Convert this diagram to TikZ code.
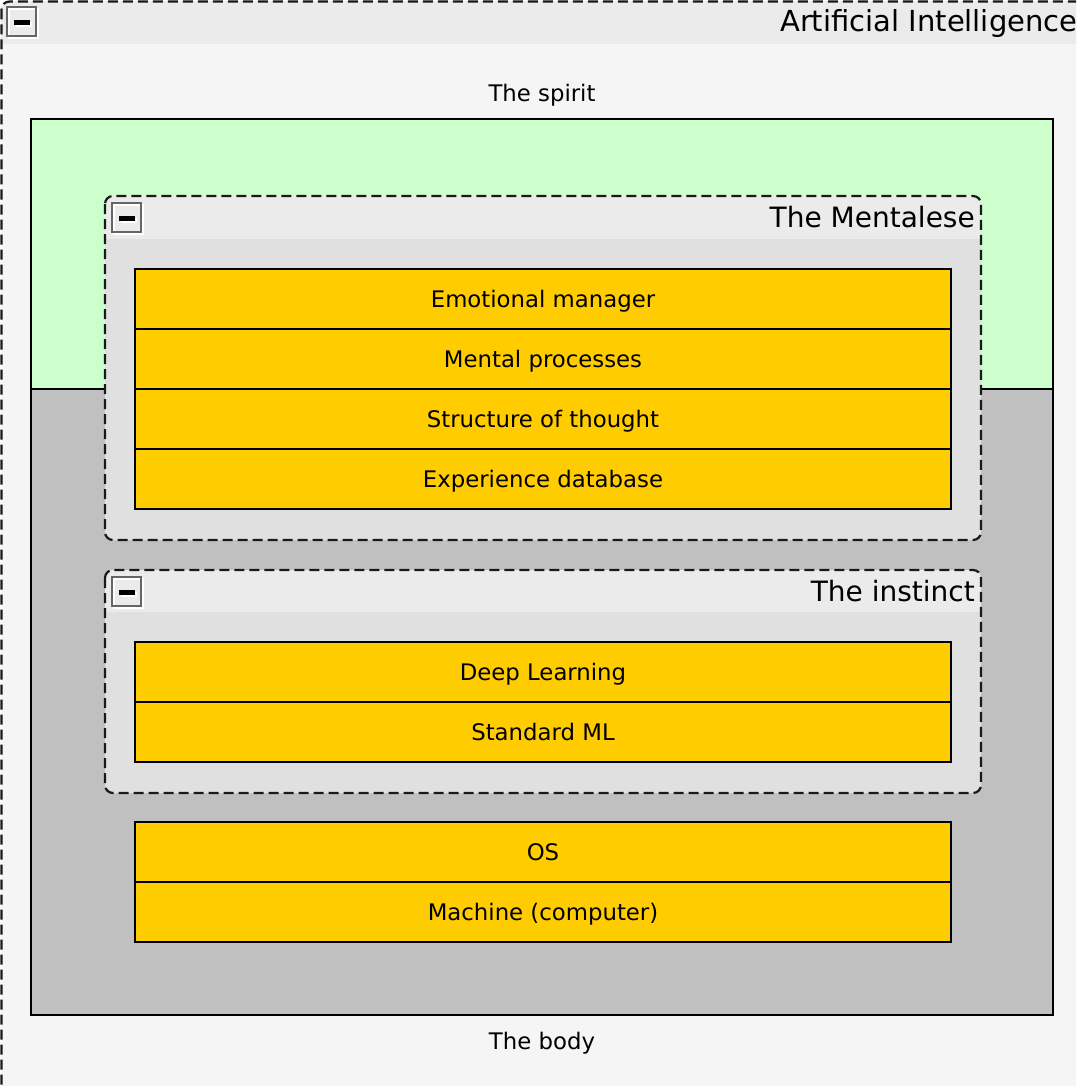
\documentclass[tikz,border=0pt]{standalone}
\usepackage{fontspec}
\setmainfont{DejaVu Sans}
\definecolor{outerbg}{HTML}{F5F5F5}
\definecolor{headbg}{HTML}{EBEBEB}
\definecolor{groupbg}{HTML}{E0E0E0}
\definecolor{spiritc}{HTML}{CCFFCC}
\definecolor{bodyc}{HTML}{C0C0C0}
\definecolor{layerc}{HTML}{FFCC00}
\definecolor{icongray}{HTML}{666666}
\newcommand\colicon[2]{%
  \draw[white,line width=2pt] (#1+2,#2+2) rectangle (#1+31,#2+31);
  \draw[icongray,line width=2pt] (#1,#2) rectangle (#1+29,#2+29);
  \fill[white] (#1+9,#2+15) rectangle (#1+25,#2+20);
  \fill[black] (#1+7,#2+13) rectangle (#1+23,#2+18);
}
\begin{document}
\begin{tikzpicture}[x=1pt,y=-1pt,
  every node/.style={font=\fontsize{22.8}{27}\selectfont, inner sep=0pt},
  titlefont/.style={font=\fontsize{28}{33}\selectfont},
  groupframe/.style={draw=black!90, line width=2.2pt, dash pattern=on 10pt off 5pt, rounded corners=8pt},
  layer/.style={draw=black, line width=1.6pt, fill=layerc, minimum width=816pt, minimum height=60pt, text height=16.6pt, text depth=0pt},
  zone/.style={draw=black, line width=1.6pt}]
\useasboundingbox (0,0) rectangle (1076,1086);
\clip (0,0) rectangle (1076,1086);
% outer container
\fill[outerbg, rounded corners=8pt] (1,1) rectangle (1084,1094);
\begin{scope}
  \clip[rounded corners=8pt] (1,1) rectangle (1084,1094);
  \fill[headbg] (1,1) rectangle (1084,44);
\end{scope}
\draw[groupframe] (1.5,1.5) rectangle (1084,1094);
\colicon{7}{7}
\node[font=\fontsize{29}{34}\selectfont, anchor=base west] (aititle) at (780,32) {Artificial Intelligence};
% spirit and body zones
\node[anchor=base] (spiritlbl) at (542,101.5) {The spirit};
\filldraw[zone, fill=spiritc] (31,119) rectangle (1053,389);
\filldraw[zone, fill=bodyc] (31,389) rectangle (1053,1015);
\node[anchor=base] (bodylbl) at (542,1049.5) {The body};
% Mentalese group
\fill[groupbg, rounded corners=8pt] (105,196) rectangle (981,540);
\begin{scope}
  \clip[rounded corners=8pt] (105,196) rectangle (981,540);
  \fill[headbg] (105,196) rectangle (981,239);
\end{scope}
\draw[groupframe] (105,196) rectangle (981,540);
\colicon{112}{203}
\node[titlefont, anchor=base east] (menttitle) at (975,227) {The Mentalese};
\node[layer] (emo) at (543,299) {Emotional manager};
\node[layer] (mproc) at (543,359) {Mental processes};
\node[layer] (struct) at (543,419) {Structure of thought};
\node[layer] (expdb) at (543,479) {Experience database};
% instinct group
\fill[groupbg, rounded corners=8pt] (105,570) rectangle (981,793);
\begin{scope}
  \clip[rounded corners=8pt] (105,570) rectangle (981,793);
  \fill[headbg] (105,570) rectangle (981,612);
\end{scope}
\draw[groupframe] (105,570) rectangle (981,793);
\colicon{112}{577}
\node[titlefont, anchor=base east] (insttitle) at (975,601) {The instinct};
\node[layer] (deep) at (543,672) {Deep Learning};
\node[layer] (stdml) at (543,732) {Standard ML};
% machine layers
\node[layer] (os) at (543,852) {OS};
\node[layer] (machine) at (543,912) {Machine (computer)};
\end{tikzpicture}
\end{document}
